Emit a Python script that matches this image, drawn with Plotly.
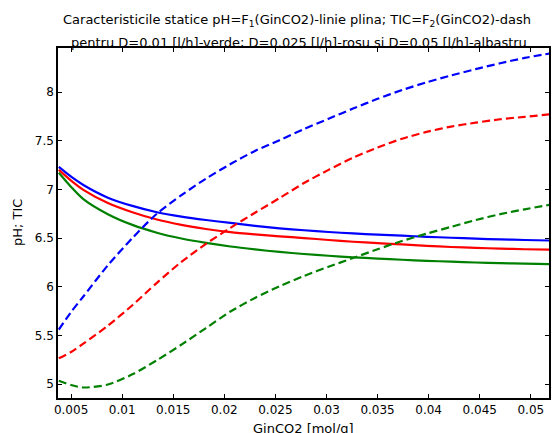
import plotly.graph_objects as go

# GinCO2 [mol/g] sample points
gin_co2 = [0.0038, 0.005, 0.0062, 0.0086, 0.011, 0.0134, 0.0158, 0.0182, 0.0206, 0.023,
           0.0254, 0.0278, 0.0302, 0.0326, 0.035, 0.0374, 0.0398, 0.0422, 0.0446, 0.047,
           0.0494, 0.0518]

# pH (solid lines)
ph_d005 = [7.23, 7.13, 7.045, 6.915, 6.83, 6.765, 6.72, 6.685, 6.655, 6.625,
           6.60, 6.58, 6.562, 6.547, 6.535, 6.524, 6.513, 6.503, 6.494, 6.486,
           6.48, 6.475]
ph_d0025 = [7.20, 7.09, 6.995, 6.86, 6.765, 6.69, 6.635, 6.593, 6.56, 6.537,
            6.518, 6.50, 6.48, 6.462, 6.448, 6.434, 6.42, 6.408, 6.399, 6.391,
            6.385, 6.38]
ph_d001 = [7.17, 7.025, 6.90, 6.745, 6.635, 6.555, 6.495, 6.45, 6.413, 6.383,
           6.357, 6.336, 6.318, 6.302, 6.289, 6.277, 6.266, 6.257, 6.249, 6.242,
           6.237, 6.233]

# TIC (dashed lines)
tic_d005 = [5.56, 5.74, 5.90, 6.22, 6.50, 6.75, 6.94, 7.11, 7.26, 7.395,
            7.505, 7.62, 7.725, 7.83, 7.93, 8.02, 8.10, 8.17, 8.235, 8.295,
            8.35, 8.395]
tic_d0025 = [5.265, 5.33, 5.415, 5.60, 5.81, 6.04, 6.255, 6.44, 6.605, 6.76,
             6.91, 7.065, 7.20, 7.325, 7.43, 7.52, 7.59, 7.645, 7.685, 7.72,
             7.745, 7.77]
tic_d001 = [5.034, 4.99, 4.965, 4.995, 5.10, 5.245, 5.405, 5.575, 5.745, 5.885,
            6.005, 6.11, 6.205, 6.295, 6.385, 6.47, 6.545, 6.615, 6.685, 6.745,
            6.795, 6.84]

x_ticks = [0.005, 0.01, 0.015, 0.02, 0.025, 0.03, 0.035, 0.04, 0.045, 0.05]
y_ticks = [5, 5.5, 6, 6.5, 7, 7.5, 8]

BLUE, RED, GREEN = "#0000FF", "#FF0000", "#008000"
DASH = "8px,4px"
LW = 2.2

fig = go.Figure()
for y, c in [(ph_d005, BLUE), (ph_d0025, RED), (ph_d001, GREEN)]:
    fig.add_trace(go.Scatter(x=gin_co2, y=y, mode="lines",
                             line=dict(color=c, width=LW, shape="spline", smoothing=0.8),
                             showlegend=False))
for y, c in [(tic_d005, BLUE), (tic_d0025, RED), (tic_d001, GREEN)]:
    fig.add_trace(go.Scatter(x=gin_co2, y=y, mode="lines",
                             line=dict(color=c, width=LW, dash=DASH, shape="spline", smoothing=0.8),
                             showlegend=False))

FAM = "DejaVu Sans, Arial, sans-serif"
tick_font = dict(family=FAM, size=12, color="black")
text_font = dict(family=FAM, size=13, color="black")

axis_common = dict(showline=True, linecolor="black", linewidth=1.5, mirror="ticks",
                   ticks="inside", ticklen=4, tickwidth=1, tickcolor="black",
                   showgrid=False, zeroline=False, tickfont=tick_font)

fig.update_xaxes(range=[0.00372, 0.05178], tickvals=x_ticks,
                 ticktext=[f"{v:g}" for v in x_ticks], **axis_common)
fig.update_yaxes(range=[4.857, 8.452], tickvals=y_ticks,
                 ticktext=[f"{v:g}" for v in y_ticks], **axis_common)

fig.add_annotation(text="Caracteristicile statice pH=F<sub>1</sub>(GinCO2)-linie plina; TIC=F<sub>2</sub>(GinCO2)-dash",
                   xref="paper", yref="paper", x=0.5, y=1, xshift=-7, yshift=28, yanchor="middle",
                   showarrow=False, font=text_font)
fig.add_annotation(text="pentru D=0.01 [l/h]-verde; D=0.025 [l/h]-rosu si D=0.05 [l/h]-albastru",
                   xref="paper", yref="paper", x=0.5, y=1, xshift=-5, yshift=6, yanchor="middle",
                   showarrow=False, font=text_font)
fig.add_annotation(text="GinCO2 [mol/g]", xref="paper", yref="paper", x=0.5, y=0,
                   yshift=-30, yanchor="middle", showarrow=False, font=text_font)
fig.add_annotation(text="pH; TIC", xref="paper", yref="paper", x=0, y=0.5,
                   xshift=-41, xanchor="center", textangle=-90, showarrow=False, font=text_font)

fig.update_layout(width=553, height=433, margin=dict(l=58, r=2, t=48, b=35),
                  paper_bgcolor="white", plot_bgcolor="white", font=tick_font)

fig.write_html("out.html", config={"displayModeBar": False},
               post_script="document.body.style.margin='0';document.body.style.padding='0';")
